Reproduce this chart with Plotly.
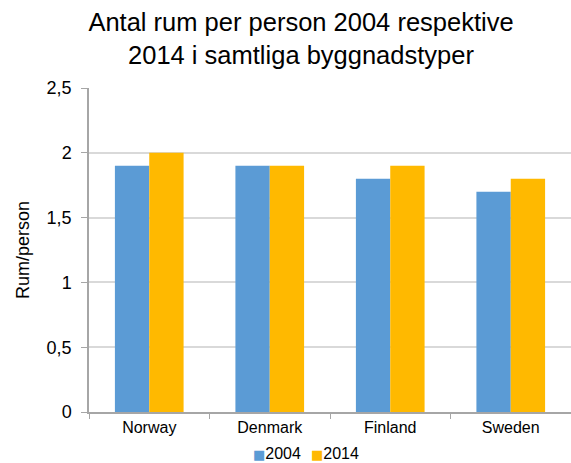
import plotly.graph_objects as go

countries = ["Norway", "Denmark", "Finland", "Sweden"]
series_names = ["2004", "2014"]
values_2004 = [1.9, 1.9, 1.8, 1.7]
values_2014 = [2.0, 1.9, 1.9, 1.8]
colors = ["#5B9BD5", "#FFB900"]

title_text = "Antal rum per person 2004 respektive<br>2014 i samtliga byggnadstyper"
y_title = "Rum/person"

fig = go.Figure()
for name, vals, col in zip(series_names, [values_2004, values_2014], colors):
    fig.add_trace(go.Bar(x=countries, y=vals, name=name, showlegend=False,
                         marker=dict(color=col, line=dict(width=0))))

font_family = "Liberation Sans, Arial, sans-serif"

# custom legend: one annotation per series, laid out in pixel coordinates
legend_centers_px = [276.5, 334.5]
legend_y_px = 454
annotations = []
for n, c, cx in zip(series_names, colors, legend_centers_px):
    annotations.append(dict(
        text=f"<span style='color:{c}; font-family:DejaVu Sans; font-size:13px'>■</span>{n}",
        x=(cx - 89) / 482, y=(412 - legend_y_px) / 324, xref="paper", yref="paper",
        xanchor="center", yanchor="middle", showarrow=False,
        font=dict(size=16, family=font_family)))

fig.update_layout(
    width=571, height=463,
    margin=dict(l=89, r=0, t=88, b=51, autoexpand=False),
    paper_bgcolor="white", plot_bgcolor="white",
    separators=", ",
    barmode="group", bargap=0.43, bargroupgap=0,
    font=dict(family=font_family, size=16, color="#000000"),
    title=dict(text=title_text, x=301/571, xanchor="center", y=1 - 31/463, yanchor="middle",
               xref="container", yref="container",
               font=dict(family=font_family, size=25.5, color="#000000")),
    xaxis=dict(showline=True, linecolor="#A6A6A6", linewidth=1.5,
               ticks="outside", tickson="boundaries", ticklen=5, tickcolor="#A6A6A6",
               tickfont=dict(size=16), showgrid=False),
    yaxis=dict(range=[0, 2.5], dtick=0.5, tick0=0, showline=True, linecolor="#A6A6A6", linewidth=1.5,
               ticks="outside", ticklen=6, tickcolor="#A6A6A6",
               gridcolor="#D9D9D9", gridwidth=1.5, zeroline=False,
               tickfont=dict(size=18), ticklabelstandoff=6,
               title=dict(text=y_title, font=dict(size=18), standoff=12)),
    showlegend=False,
    annotations=annotations,
)

fig.write_html("out.html")
